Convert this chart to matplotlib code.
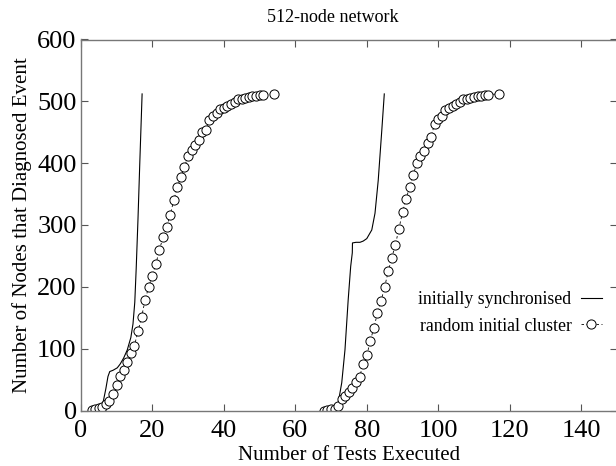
import matplotlib
matplotlib.use("Agg")
import matplotlib.pyplot as plt

plt.rcParams['font.family'] = ['Liberation Serif', 'DejaVu Serif']

# initially synchronised, first run
sync1_x = [5.6, 6.3, 7.0, 7.6, 8.1, 9.0, 10.2, 11.0, 12.0, 13.0, 14.0, 14.6, 15.1, 15.5, 16.0, 16.5, 17.15]
sync1_y = [0, 15, 35, 55, 63, 65, 69, 75, 85, 98, 118, 140, 175, 230, 310, 400, 512]

# initially synchronised, second run
sync2_x = [70.7, 72.0, 73.0, 73.9, 74.8, 75.5, 75.95, 76.0, 77.0, 78.1, 79.0, 80.0, 81.4, 82.3, 83.2, 84.2, 84.9]
sync2_y = [0, 12, 45, 98, 179, 233, 255, 271, 272, 272, 274, 278, 292, 319, 372, 453, 512]

# random initial cluster, first run
rand1_x = list(range(3, 52)) + [54]
rand1_y = [1, 2, 4, 6, 10, 15, 27, 42, 55, 66, 79, 93, 105, 128, 151, 179, 200, 218, 237, 260,
           280, 297, 316, 340, 361, 378, 394, 411, 421, 429, 437, 450, 454, 470, 477, 481,
           488, 490, 492, 495, 499, 503, 504, 506, 507, 508, 509, 510, 511, 512]

# random initial cluster, second run
rand2_x = list(range(68, 115)) + [117]
rand2_y = [0, 1, 2, 3, 8, 18, 23, 30, 37, 46, 54, 76, 89, 113, 134, 158, 177, 200, 225, 247,
           268, 294, 321, 342, 362, 381, 400, 411, 420, 433, 443, 464, 472, 477, 486, 489,
           493, 496, 499, 503, 504, 506, 507, 508, 509, 510, 511, 512]

xticks = [0, 20, 40, 60, 80, 100, 120, 140]
yticks = [0, 100, 200, 300, 400, 500, 600]

fig = plt.figure(figsize=(6.16, 4.66), dpi=100)
ax = fig.add_axes([80.8 / 616, 1 - 410.5 / 466, (617 - 80.8) / 616, (410.5 - 39.5) / 466])

ax.plot(sync1_x, sync1_y, color='black', lw=0.8, label='initially synchronised')
ax.plot(sync2_x, sync2_y, color='black', lw=0.8)
ax.plot(rand1_x, rand1_y, color='black', lw=0.6, ls=(0, (3, 3)), marker='o', ms=6.6,
        mfc='white', mec='black', mew=0.7, label='random initial cluster')
ax.plot(rand2_x, rand2_y, color='black', lw=0.6, ls=(0, (3, 3)), marker='o', ms=6.6,
        mfc='white', mec='black', mew=0.7)

ax.set_xlim(0, 150)
ax.set_ylim(0, 600)
ax.set_xticks(xticks)
ax.set_yticks(yticks)
ax.tick_params(direction='in', top=True, right=True, length=5, width=0.8,
               labelsize=19, color='#555555')
ax.tick_params(axis='x', pad=7)
ax.tick_params(axis='y', pad=3)
for s in ax.spines.values():
    s.set_color('#777777')
    s.set_linewidth(1.0)

ax.set_xlabel('Number of Tests Executed', fontsize=15, labelpad=3)
ax.set_ylabel('Number of Nodes that Diagnosed Event', fontsize=15, labelpad=4)
fig.text(333 / 616, 1 - 18 / 466, '512-node network', fontsize=13, ha='center', va='center')

leg = ax.legend(loc='upper right', bbox_to_anchor=(0.985, 0.342), frameon=False,
                markerfirst=False, fontsize=12.8, handlelength=1.2, handletextpad=0.5,
                labelspacing=0.55, borderaxespad=0)

fig.savefig('out.png', dpi=100)
